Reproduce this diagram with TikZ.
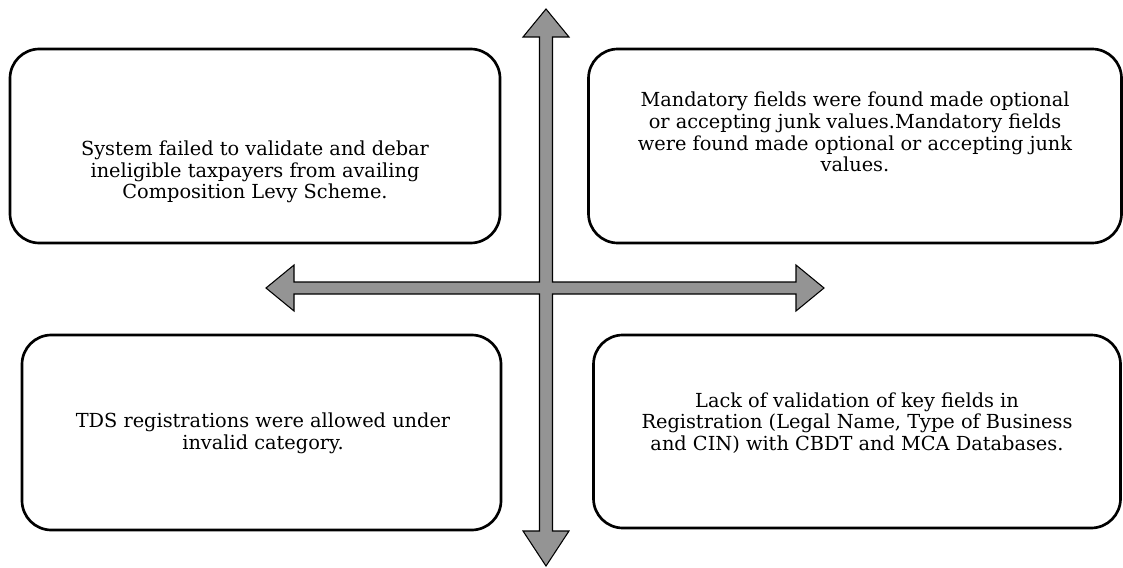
\documentclass[tikz,border=0pt]{standalone}
\usepackage{fontspec}
\setmainfont{DejaVu Serif}

\begin{document}
\begin{tikzpicture}[
  x=0.75pt, y=-0.75pt,
  box/.style={draw, line width=2pt, rounded corners=22pt, inner sep=0pt},
  txt/.style={align=center, font=\fontsize{14.5pt}{16.2pt}\selectfont},
  cross/.style={fill=black!42, draw=black, line width=0.8pt, line join=miter},
]

\useasboundingbox (0,0) rectangle (1123,567);

% quadrant boxes
\node [box, minimum width=490pt*0.75, minimum height=194pt*0.75] (tl) at (255,146) {};
\node [box, minimum width=533pt*0.75, minimum height=194pt*0.75] (tr) at (855,146) {};
\node [box, minimum width=479pt*0.75, minimum height=195pt*0.75] (bl) at (261.5,432.5) {};
\node [box, minimum width=527pt*0.75, minimum height=193pt*0.75] (br) at (857,431.5) {};

% texts
\node [txt] (tltext) at (255,172) {System failed to validate and debar\\ineligible taxpayers from availing\\Composition Levy Scheme.};
\node [txt] (trtext) at (855,132) {Mandatory fields were found made optional\\or accepting junk values.Mandatory fields\\were found made optional or accepting junk\\values.};
\node [txt] (bltext) at (263,433) {TDS registrations were allowed under\\invalid category.};
\node [txt] (brtext) at (857,423) {Lack of validation of key fields in\\Registration (Legal Name, Type of Business\\and CIN) with CBDT and MCA Databases.};

% the cross of double arrows
\draw [cross] (546,9) -- (569,37) -- (552.5,37) -- (552.5,282) -- (796,282) -- (796,265)
  -- (824,288) -- (796,311) -- (796,294) -- (552.5,294) -- (552.5,531) -- (569,531)
  -- (546,566) -- (523,531) -- (539.5,531) -- (539.5,294) -- (294,294) -- (294,311)
  -- (266,288) -- (294,265) -- (294,282) -- (539.5,282) -- (539.5,37) -- (523,37) -- cycle;

\end{tikzpicture}
\end{document}
